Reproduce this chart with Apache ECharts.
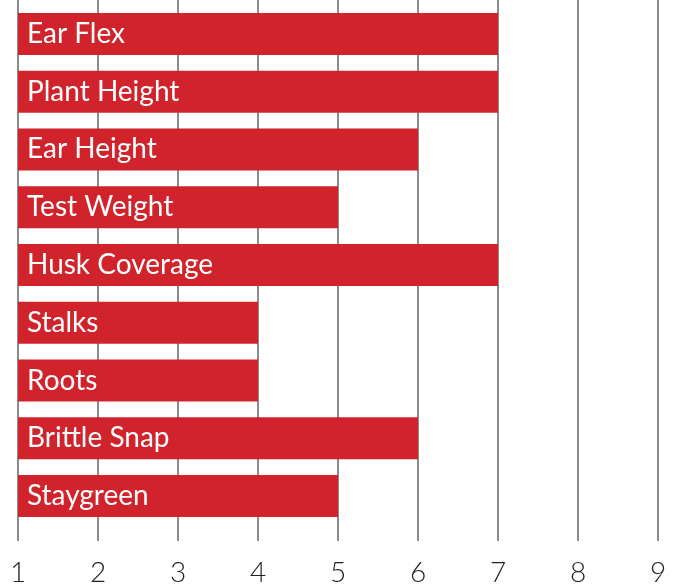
<!DOCTYPE html>
<html><head><meta charset="utf-8">
<script src="https://cdn.jsdelivr.net/npm/echarts@6/dist/echarts.min.js"></script>
<style>html,body{margin:0;padding:0;background:#fff}#c{width:676px;height:587px}</style>
</head><body><div id="c"></div>
<script>
const categories = ["Ear Flex","Plant Height","Ear Height","Test Weight","Husk Coverage","Stalks","Roots","Brittle Snap","Staygreen"];
const values = [7,7,6,5,7,4,4,6,5];
const tickLabels = ["1","2","3","4","5","6","7","8","9"];

const FONT = "Lato";
const chart = echarts.init(document.getElementById('c'), null, {renderer:'canvas'});
chart.setOption({
  animation:false,
  grid:{left:18,right:18,top:5,height:522,containLabel:false},
  xAxis:[{
    type:'value',min:1,max:9,interval:1,position:'bottom',
    axisLine:{show:false},
    axisTick:{show:true,length:16,lineStyle:{color:'#8c8c8e',width:2}},
    splitLine:{show:true,lineStyle:{color:'#8c8c8e',width:2}},
    axisLabel:{margin:34,fontSize:28,fontFamily:FONT,fontWeight:300,color:'#222',
      formatter:v=>tickLabels[Math.round(v)-1]}
  },{
    type:'value',min:1,max:9,interval:1,position:'top',
    axisLine:{show:false},
    axisTick:{show:true,length:5,lineStyle:{color:'#8c8c8e',width:2}},
    splitLine:{show:false},axisLabel:{show:false}
  }],
  yAxis:{type:'category',data:categories,inverse:true,
    axisLine:{show:false},axisTick:{show:false},axisLabel:{show:false},splitLine:{show:false}},
  series:[{
    type:'bar',data:values,barWidth:42,xAxisIndex:0,
    itemStyle:{color:'#d0232b'},
    label:{show:true,position:'insideLeft',distance:9,color:'#fff',fontSize:28,fontFamily:FONT,
      formatter:p=>categories[p.dataIndex]}
  }]
});
</script></body></html>
